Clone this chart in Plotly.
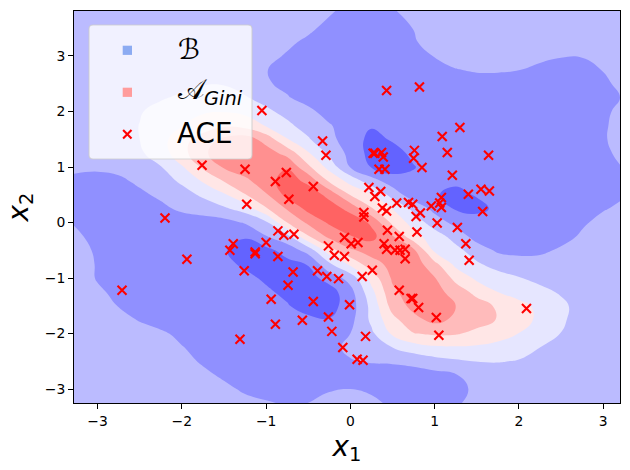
import plotly.graph_objects as go

# decision surface on a 0.25 grid (rows top to bottom)
grid_x = [-3.29, -3.0, -2.75, -2.5, -2.25, -2.0, -1.75, -1.5, -1.25, -1.0, -0.75, -0.5, -0.25, 0.0,
          0.25, 0.5, 0.75, 1.0, 1.25, 1.5, 1.75, 2.0, 2.25, 2.5, 2.75, 3.0, 3.25]
grid_y = [3.85, 3.5, 3.25, 3.0, 2.75, 2.5, 2.25, 2.0, 1.75, 1.5, 1.25, 1.0, 0.75, 0.5, 0.25, 0.0,
          -0.25, -0.5, -0.75, -1.0, -1.25, -1.5, -1.75, -2.0, -2.25, -2.5, -2.75, -3.0, -3.27]
grid_z = [
    [-1.5,-1.5,-1.5,-1.5,-1.5,-1.5,-1.5,-1.5,-1.5,-1.5,-1.5,-1.7,-1.9,-2.15,-2.2,-2.02,-1.8,-1.6,-1.5,-1.5,-1.5,-1.5,-1.5,-1.5,-1.5,-1.5,-1.9],
    [-1.5,-1.5,-1.5,-1.5,-1.5,-1.5,-1.5,-1.5,-1.5,-1.5,-1.7,-1.9,-2.15,-2.4,-2.4,-2.2,-1.99,-1.8,-1.6,-1.5,-1.5,-1.5,-1.5,-1.5,-1.5,-1.5,-1.6],
    [-1.5,-1.5,-1.5,-1.5,-1.5,-1.5,-1.5,-1.5,-1.5,-1.7,-1.9,-2.1,-2.4,-2.6,-2.5,-2.3,-2.05,-1.8,-1.7,-1.6,-1.6,-1.6,-1.7,-1.7,-1.7,-1.6,-1.5],
    [-1.5,-1.5,-1.5,-1.5,-1.5,-1.5,-1.5,-1.5,-1.6,-1.85,-2.05,-2.3,-2.5,-2.7,-2.6,-2.4,-2.2,-1.98,-1.8,-1.75,-1.75,-1.8,-1.9,-1.97,-1.97,-1.9,-1.7],
    [-1.5,-1.5,-1.5,-1.5,-1.5,-1.4,-1.3,-1.4,-1.8,-1.98,-2.2,-2.4,-2.6,-2.7,-2.6,-2.5,-2.3,-2.15,-2.02,-1.95,-1.95,-1.99,-2.1,-2.2,-2.2,-1.98,-1.8],
    [-1.6,-1.6,-1.6,-1.55,-1.4,-1.25,-1.05,-1.05,-1.35,-1.93,-2.15,-2.4,-2.6,-2.7,-2.7,-2.6,-2.4,-2.3,-2.2,-2.2,-2.2,-2.3,-2.4,-2.5,-2.4,-2.1,-1.85],
    [-1.7,-1.7,-1.6,-1.4,-1.1,-0.85,-0.65,-0.65,-0.93,-1.35,-1.95,-2.25,-2.5,-2.65,-2.75,-2.8,-2.6,-2.5,-2.4,-2.4,-2.4,-2.4,-2.5,-2.6,-2.4,-2.2,-1.95],
    [-1.7,-1.6,-1.4,-1.07,-0.7,-0.35,-0.1,-0.05,-0.25,-0.8,-1.3,-1.85,-2.25,-2.55,-2.8,-2.85,-2.7,-2.6,-2.5,-2.5,-2.5,-2.5,-2.5,-2.5,-2.4,-2.1,-1.85],
    [-1.8,-1.6,-1.35,-0.98,-0.5,-0.05,0.4,0.85,0.6,-0.1,-0.8,-1.4,-1.95,-2.3,-2.9,-2.95,-2.8,-2.6,-2.6,-2.6,-2.6,-2.6,-2.6,-2.5,-2.4,-2.1,-1.7],
    [-1.8,-1.65,-1.4,-1.0,-0.35,0.6,1.5,2.2,2.5,1.6,0.05,-0.9,-1.75,-2.45,-3.3,-2.9,-2.75,-2.6,-2.6,-2.6,-2.6,-2.6,-2.6,-2.5,-2.3,-2.05,-1.8],
    [-1.75,-1.6,-1.45,-1.15,-0.5,0.65,1.8,2.6,2.8,2.5,1.65,0.1,-1.2,-2.3,-3.35,-3.35,-2.8,-2.6,-2.6,-2.7,-2.7,-2.7,-2.7,-2.6,-2.4,-2.15,-1.8],
    [-1.95,-1.85,-1.7,-1.4,-1.05,-0.1,1.15,2.1,2.6,2.95,2.9,1.2,-0.35,-2.05,-3.05,-3.5,-3.05,-2.6,-2.7,-2.8,-2.8,-2.8,-2.7,-2.6,-2.4,-2.2,-1.97],
    [-2.05,-2.3,-2.2,-1.8,-1.4,-0.85,0.1,1.05,1.75,2.6,3.45,2.75,0.85,-0.35,-1.6,-2.5,-2.8,-2.9,-2.9,-2.9,-2.9,-2.9,-2.8,-2.7,-2.5,-2.3,-2.05],
    [-2.3,-2.5,-2.45,-2.2,-1.8,-1.35,-0.85,-0.15,0.95,1.9,3.3,3.6,2.7,0.95,0.1,-1.4,-2.6,-2.95,-3.15,-2.95,-2.9,-2.9,-2.8,-2.7,-2.6,-2.3,-2.05],
    [-2.2,-2.5,-2.5,-2.4,-2.25,-1.8,-1.5,-1.15,-0.6,0.9,2.1,3.3,3.5,2.7,1.1,-0.05,-1.25,-2.3,-3.1,-3.2,-2.85,-2.8,-2.7,-2.5,-2.3,-2.05,-1.85],
    [-2.03,-2.4,-2.5,-2.55,-2.6,-2.6,-2.5,-2.35,-1.9,-1.2,1.0,2.2,3.15,3.6,2.85,0.75,-0.4,-1.5,-2.3,-2.65,-2.75,-2.7,-2.6,-2.4,-2.1,-1.8,-1.6],
    [-1.85,-2.2,-2.45,-2.6,-2.65,-2.7,-2.7,-2.85,-2.95,-2.05,-1.3,0.9,2.25,2.95,3.3,2.1,0.35,-0.5,-1.4,-2.4,-2.55,-2.6,-2.5,-2.25,-1.9,-1.7,-1.6],
    [-1.7,-2.1,-2.3,-2.5,-2.6,-2.7,-2.8,-2.95,-3.25,-3.3,-2.6,-1.6,0.55,1.85,2.4,2.75,2.2,-0.2,-0.7,-1.5,-2.15,-2.25,-2.15,-1.9,-1.7,-1.6,-1.5],
    [-1.65,-2.05,-2.2,-2.4,-2.5,-2.6,-2.7,-2.85,-3.1,-3.4,-3.3,-2.95,-1.2,0.2,1.6,2.3,2.6,1.3,-0.25,-0.85,-1.4,-1.6,-1.7,-1.6,-1.5,-1.5,-1.5],
    [-1.6,-2.05,-2.2,-2.35,-2.5,-2.6,-2.7,-2.75,-2.85,-3.1,-3.4,-3.4,-2.6,-1.6,0.4,2.15,2.5,2.05,0.7,-0.2,-0.55,-0.95,-1.25,-1.4,-1.5,-1.5,-1.5],
    [-1.55,-1.9,-2.15,-2.3,-2.4,-2.5,-2.6,-2.65,-2.75,-2.9,-3.15,-3.4,-3.45,-2.35,-0.3,1.8,2.5,2.4,1.55,0.7,0.0,-0.4,-0.75,-1.1,-1.4,-1.5,-1.5],
    [-1.5,-1.65,-2.03,-2.25,-2.35,-2.45,-2.5,-2.55,-2.6,-2.75,-2.95,-3.3,-3.4,-2.5,-0.7,1.4,2.3,2.5,2.0,1.45,0.85,0.3,-0.25,-0.8,-1.35,-1.5,-1.5],
    [-1.5,-1.5,-1.75,-2.05,-2.25,-2.35,-2.4,-2.5,-2.6,-2.6,-2.65,-2.85,-2.95,-2.3,-0.8,0.7,1.7,2.3,1.8,1.4,0.95,0.4,-0.2,-0.85,-1.4,-1.5,-1.5],
    [-1.4,-1.45,-1.5,-1.7,-1.9,-2.15,-2.3,-2.4,-2.45,-2.45,-2.5,-2.5,-2.45,-2.0,-1.2,0.15,0.95,1.15,1.1,0.75,0.4,-0.02,-0.5,-1.02,-1.4,-1.5,-1.5],
    [-1.4,-1.4,-1.45,-1.5,-1.65,-1.97,-2.2,-2.35,-2.4,-2.45,-2.45,-2.35,-2.2,-1.85,-1.4,-1.0,-0.45,-0.15,-0.1,-0.15,-0.3,-0.65,-1.0,-1.3,-1.5,-1.5,-1.5],
    [-1.4,-1.4,-1.4,-1.45,-1.6,-1.8,-2.08,-2.3,-2.4,-2.45,-2.45,-2.35,-2.25,-2.05,-1.95,-1.9,-1.75,-1.4,-1.15,-0.98,-0.95,-1.05,-1.3,-1.45,-1.5,-1.5,-1.5],
    [-1.4,-1.4,-1.4,-1.4,-1.45,-1.6,-1.85,-2.1,-2.3,-2.4,-2.4,-2.3,-2.2,-2.15,-2.3,-2.4,-2.4,-2.3,-2.05,-1.7,-1.5,-1.4,-1.4,-1.4,-1.4,-1.4,-1.4],
    [-1.4,-1.4,-1.4,-1.4,-1.4,-1.5,-1.65,-1.85,-2.1,-2.3,-2.3,-2.2,-2.05,-2.0,-2.1,-2.25,-2.35,-2.3,-2.15,-1.9,-1.6,-1.4,-1.4,-1.4,-1.4,-1.4,-1.4],
    [-1.4,-1.4,-1.4,-1.4,-1.4,-1.45,-1.5,-1.65,-1.8,-1.9,-2.05,-1.98,-1.8,-1.75,-1.85,-2.1,-2.2,-2.15,-2.05,-1.85,-1.6,-1.5,-1.5,-1.5,-1.5,-1.5,-1.5],
]

# ACE points
ace_x = [-1.05,-0.33,-0.29,-1.76,-1.25,-0.76,-0.89,-0.44,-0.73,-1.23,-2.20,-0.86,-0.79,-0.67,-0.07,-1.94,
         -1.39,-1.43,-1.13,-1.13,-1.00,-0.86,-0.26,-0.19,-0.07,-1.26,-0.68,-0.39,-0.28,-0.14,-0.74,-2.71,
         -0.94,-0.44,-0.01,-0.26,-0.57,-0.89,-0.22,-1.31,-0.09,1.57,1.03,1.27,0.79,1.37,1.41,0.44,0.58,
         0.40,0.43,0.53,0.59,0.65,0.65,0.01,0.09,0.26,0.14,0.58,0.72,0.74,0.81,1.02,2.09,1.05,0.18,0.08,
         0.15,0.38,0.43,0.55,0.69,0.74,0.83,0.78,0.96,1.08,1.06,0.16,0.16,0.82,0.43,1.30,1.09,1.15,1.64,
         0.76,0.75,0.85,1.21,0.27,0.29,0.37,0.39,0.34,0.41,0.22,0.36,0.29,1.55,1.65,1.40,1.08]
ace_y = [2.02,1.47,1.21,1.03,0.96,0.90,0.74,0.65,0.42,0.33,0.08,-0.15,-0.23,-0.21,-0.27,-0.66,
         -0.38,-0.50,-0.53,-0.56,-0.36,-0.61,-0.42,-0.59,-0.61,-0.87,-0.89,-0.87,-0.97,-1.01,-1.13,-1.22,
         -1.38,-1.42,-1.48,-1.70,-1.76,-1.83,-1.96,-2.10,-2.25,0.20,-0.01,-0.09,-0.17,-0.38,-0.68,-0.14,-0.25,
         -0.38,-0.48,-0.50,-0.50,-0.48,-0.65,-0.38,-0.36,-0.86,-0.97,-1.22,-1.37,-1.37,-1.53,-1.71,-1.55,-2.03,-2.05,-2.46,
         -2.48,0.26,0.21,0.35,0.36,0.33,0.17,0.11,0.30,0.27,0.35,0.18,0.10,2.44,2.38,1.71,1.55,1.26,1.21,
         1.30,1.16,0.99,0.85,1.25,1.25,1.26,1.18,0.96,0.96,0.63,0.56,0.47,0.60,0.57,0.51,0.45]

tick_vals = [-3, -2, -1, 0, 1, 2, 3]
band_colors = ["#6363ff", "#9090ff", "#bbbbff", "#e6e6ff", "#ffe6e6", "#ffbbbb", "#ff9090", "#ff6363"]

W, H = 630, 470
L, R, T, B = 74, 620, 11, 403


def px(v):
    return (v - L) / (R - L)


def py(v):
    return (B - v) / (B - T)


# stepped colorscale, one flat colour per contour band
scale = []
for i, c in enumerate(band_colors):
    scale.append([i / len(band_colors), c])
    scale.append([(i + 1) / len(band_colors), c])

fig = go.Figure()
fig.add_trace(go.Contour(x=grid_x, y=grid_y[::-1], z=grid_z[::-1], colorscale=scale, zmin=-4, zmax=4,
                         autocontour=False, contours=dict(start=-3, end=3, size=1, coloring='fill', showlines=False),
                         line=dict(width=0, smoothing=1.3), showscale=False, hoverinfo='skip'))
fig.add_trace(go.Scatter(x=ace_x, y=ace_y, mode='markers', name='ACE', showlegend=False,
                         marker=dict(symbol='x-thin', size=9, color='red', line=dict(color='red', width=2.1))))

# legend is built by hand, plotly has no rounded frame
x0, x1, y0, y1, r = px(89), px(252), py(25), py(159), 4 / (R - L)
ry = 4 / (B - T)
frame = (f"M {x0+r} {y0} L {x1-r} {y0} Q {x1} {y0} {x1} {y0-ry} L {x1} {y1+ry} Q {x1} {y1} {x1-r} {y1} "
         f"L {x0+r} {y1} Q {x0} {y1} {x0} {y1+ry} L {x0} {y0-ry} Q {x0} {y0} {x0+r} {y0} Z")
shapes = [dict(type='path', path=frame, xref='paper', yref='paper', layer='above',
               fillcolor='rgba(255,255,255,0.8)', line=dict(color='rgba(204,204,204,0.8)', width=1.1))]
for cy, col in [(50.3, '#8cabf2'), (92.3, '#ff9c9c')]:
    shapes.append(dict(type='rect', xref='paper', yref='paper', layer='above', x0=px(122.7), x1=px(132),
                       y0=py(cy + 4.6), y1=py(cy - 4.6), fillcolor=col, line=dict(width=0)))
for b in [-1, 1]:
    shapes.append(dict(type='line', xref='paper', yref='paper', layer='above', x0=px(127.3 - 4.2), x1=px(127.3 + 4.2),
                       y0=py(134.3 + 4.2 * b), y1=py(134.3 - 4.2 * b), line=dict(color='red', width=2.1)))

labels = [(176, 49, "<i>ℬ</i>"), (176, 92, "𝒜<sub><i>Gini</i></sub>"), (175, 133, "ACE")]
annotations = [dict(text=t, x=px(a), y=py(b), xref='paper', yref='paper', xanchor='left', yanchor='middle',
                    showarrow=False, font=dict(family='DejaVu Sans', size=27.8, color='black'))
               for a, b, t in labels]

fig.update_layout(width=W, height=H, margin=dict(l=L, r=W - R, t=T, b=H - B, pad=0), plot_bgcolor='white',
                  paper_bgcolor='white', shapes=shapes, annotations=annotations, showlegend=False,
                  font=dict(family='DejaVu Sans', color='black', size=13.9))
axis = dict(tickmode='array', tickvals=tick_vals, ticks='outside', ticklen=4.9, tickwidth=1.1, tickcolor='black',
            showline=True, linewidth=1.1, linecolor='black', mirror=True, showgrid=False, zeroline=False,
            tickfont=dict(size=13.9))
fig.update_xaxes(range=[-3.28, 3.2], title=dict(text="<i>x</i><sub>1</sub>", font=dict(size=27.8), standoff=8), **axis)
fig.update_yaxes(range=[-3.25, 3.81], title=dict(text="<i>x</i><sub>2</sub>", font=dict(size=27.8), standoff=8), **axis)

fig.write_html("out.html", config=dict(displayModeBar=False), post_script="document.body.style.margin='0';")
